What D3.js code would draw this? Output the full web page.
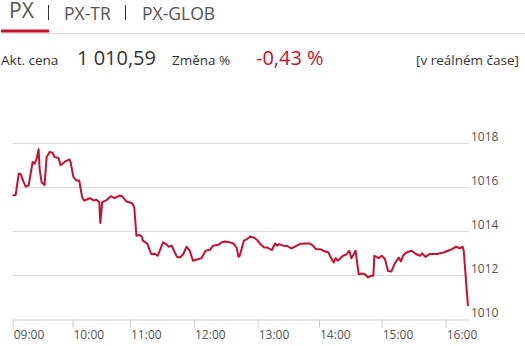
<!DOCTYPE html>
<html>
<head>
<meta charset="utf-8">
<script src="https://cdn.jsdelivr.net/npm/d3@7"></script>
<style>
  body { margin: 0; background: #fff; font-family: "Open Sans", sans-serif; }
  svg { display: block; }
</style>
</head>
<body>
<svg id="chart" width="525" height="346"></svg>
<script>
// Tabs and header values
const tabs = ["PX", "PX-TR", "PX-GLOB"];
const lastPrice = "1 010,59";
const changePct = "-0,43 %";

// Intraday series (time, index value)
const times = [
  "09:00","09:03","09:06","09:08","09:11","09:13","09:16","09:20","09:22","09:24",
  "09:26","09:27","09:29","09:32","09:34","09:37","09:40","09:42","09:46","09:48",
  "09:52","09:57","09:58","10:01","10:04","10:07","10:10","10:12","10:15","10:18",
  "10:22","10:25","10:28","10:29","10:31","10:35","10:40","10:44","10:49","10:52",
  "10:56","11:02","11:04","11:06","11:09","11:11","11:12","11:16","11:20","11:23",
  "11:26","11:31","11:34","11:36","11:39","11:42","11:44","11:47","11:50","11:53",
  "11:56","11:59","12:02","12:07","12:11","12:15","12:18","12:23","12:26","12:29",
  "12:33","12:37","12:40","12:42","12:43","12:47","12:50","12:53","12:57","13:00",
  "13:02","13:06","13:09","13:14","13:17","13:19","13:21","13:25","13:29","13:33",
  "13:37","13:41","13:46","13:51","13:54","13:57","14:01","14:04","14:09","14:11",
  "14:14","14:16","14:18","14:23","14:26","14:29","14:31","14:33","14:35","14:38",
  "14:41","14:44","14:47","14:50","14:52","14:53","14:57","15:00","15:03","15:06",
  "15:09","15:12","15:16","15:18","15:20","15:23","15:28","15:32","15:36","15:38",
  "15:41","15:45","15:52","15:58","16:04","16:10","16:13","16:16","16:17","16:21"
];
const values = [
  1015.62,1015.65,1016.61,1016.60,1016.23,1016.03,1016.08,1017.15,1017.07,1017.30,
  1017.73,1016.84,1016.23,1016.10,1017.37,1017.60,1017.57,1017.37,1017.33,1017.00,
  1017.15,1017.27,1017.15,1016.46,1016.31,1016.31,1015.55,1015.39,1015.44,1015.50,
  1015.40,1015.43,1015.32,1014.37,1015.32,1015.40,1015.59,1015.50,1015.62,1015.59,
  1015.36,1015.27,1015.09,1013.79,1013.82,1013.75,1013.57,1013.44,1012.95,1012.97,
  1012.88,1013.49,1013.41,1013.29,1013.34,1013.03,1012.83,1012.80,1012.96,1013.29,
  1013.11,1012.65,1012.70,1012.77,1013.11,1013.15,1013.34,1013.38,1013.49,1013.53,
  1013.50,1013.44,1013.26,1012.83,1012.87,1013.57,1013.64,1013.76,1013.69,1013.57,
  1013.44,1013.26,1013.26,1013.14,1013.44,1013.34,1013.41,1013.34,1013.32,1013.21,
  1013.31,1013.41,1013.44,1013.44,1013.34,1013.18,1013.18,1013.11,1013.03,1012.83,
  1012.57,1012.77,1012.65,1012.88,1012.93,1013.11,1012.77,1012.93,1013.11,1012.04,
  1012.07,1012.04,1011.89,1011.97,1011.97,1012.88,1012.77,1012.88,1012.73,1012.19,
  1012.16,1012.50,1012.80,1012.62,1012.88,1013.03,1013.11,1012.96,1012.88,1012.99,
  1012.83,1012.96,1012.96,1013.03,1013.14,1013.29,1013.22,1013.29,1013.11,1010.59
];

// Axis ticks
const hourTicks = ["09:00","10:00","11:00","12:00","13:00","14:00","15:00","16:00"];
const yTicks = [1010, 1012, 1014, 1016, 1018];

const RED = "#c8102e";
const parse = d3.timeParse("%H:%M");
const data = times.map((t, i) => ({ t: parse(t), v: values[i] }));

const svg = d3.select("#chart");

// --- header tabs ---
svg.append("line")
  .attr("x1", 0).attr("x2", 525).attr("y1", 33.5).attr("y2", 33.5)
  .attr("stroke", "#dcdcdc");

const tabX = [9, 64, 142];
tabs.forEach((t, i) => {
  svg.append("text")
    .attr("x", tabX[i])
    .attr("y", i === 0 ? 18 : 20)
    .style("font-size", i === 0 ? "21px" : "17.5px")
    .attr("fill", "#555")
    .text(t);
});
[48.5, 125.5].forEach(x => {
  svg.append("line")
    .attr("x1", x).attr("x2", x).attr("y1", 5).attr("y2", 20)
    .attr("stroke", "#333");
});
svg.append("rect")
  .attr("x", 1).attr("y", 29.5).attr("width", 48).attr("height", 3)
  .attr("fill", RED);

// --- price row ---
svg.append("text").attr("x", 1).attr("y", 65)
  .style("font-size", "13.5px").attr("fill", "#333").text("Akt. cena");
svg.append("text").attr("x", 77).attr("y", 65)
  .style("font-size", "20px").attr("fill", "#333").text(lastPrice);
svg.append("text").attr("x", 172).attr("y", 65)
  .style("font-size", "13.5px").attr("fill", "#333").text("Změna %");
svg.append("text").attr("x", 256).attr("y", 65)
  .style("font-size", "20px").attr("fill", RED).text(changePct);
svg.append("text").attr("x", 519).attr("y", 64.5)
  .attr("text-anchor", "end")
  .style("font-size", "13.5px").attr("fill", "#333").text("[v reálném čase]");

// --- chart ---
// hour slots are not evenly wide in the original, so use a piecewise time scale
const hourDates = hourTicks.map(parse);
const x = d3.scaleTime()
  .domain([...hourDates, parse("16:22")])
  .range([12.7, 72.5, 130, 194, 257.7, 319, 381.7, 445.7, 469]);

const y = d3.scaleLinear()
  .domain([1010, 1018])
  .range([319, 143.3]);

// gridlines
svg.append("g")
  .selectAll("line")
  .data(yTicks.filter(d => d > 1010))
  .join("line")
  .attr("x1", 12.7).attr("x2", 469)
  .attr("y1", d => Math.round(y(d)) + 0.5)
  .attr("y2", d => Math.round(y(d)) + 0.5)
  .attr("stroke", "#dadada");

// y labels (right side)
svg.append("g")
  .selectAll("text")
  .data(yTicks)
  .join("text")
  .attr("x", 471)
  .attr("y", d => y(d) - 2.5)
  .style("font-size", "12px")
  .attr("fill", "#555")
  .text(d => d);

// x axis
const xAxis = svg.append("g")
  .attr("transform", "translate(0,319.5)")
  .call(d3.axisBottom(x)
    .tickValues(hourDates)
    .tickFormat(d3.timeFormat("%H:%M"))
    .tickSizeInner(8)
    .tickSizeOuter(0));
xAxis.select(".domain").attr("stroke", "#c3ccd6");
xAxis.selectAll(".tick line").attr("stroke", "#c3ccd6");
xAxis.selectAll(".tick text")
  .attr("text-anchor", "start")
  .attr("x", 0.5)
  .attr("y", 11)
  .style("font-family", "'Open Sans', sans-serif")
  .style("font-size", "12px")
  .attr("fill", "#555");

// price line
const line = d3.line()
  .x(d => x(d.t))
  .y(d => y(d.v));

svg.append("path")
  .datum(data)
  .attr("fill", "none")
  .attr("stroke", RED)
  .attr("stroke-width", 2)
  .attr("stroke-linejoin", "round")
  .attr("d", line);
</script>
</body>
</html>
